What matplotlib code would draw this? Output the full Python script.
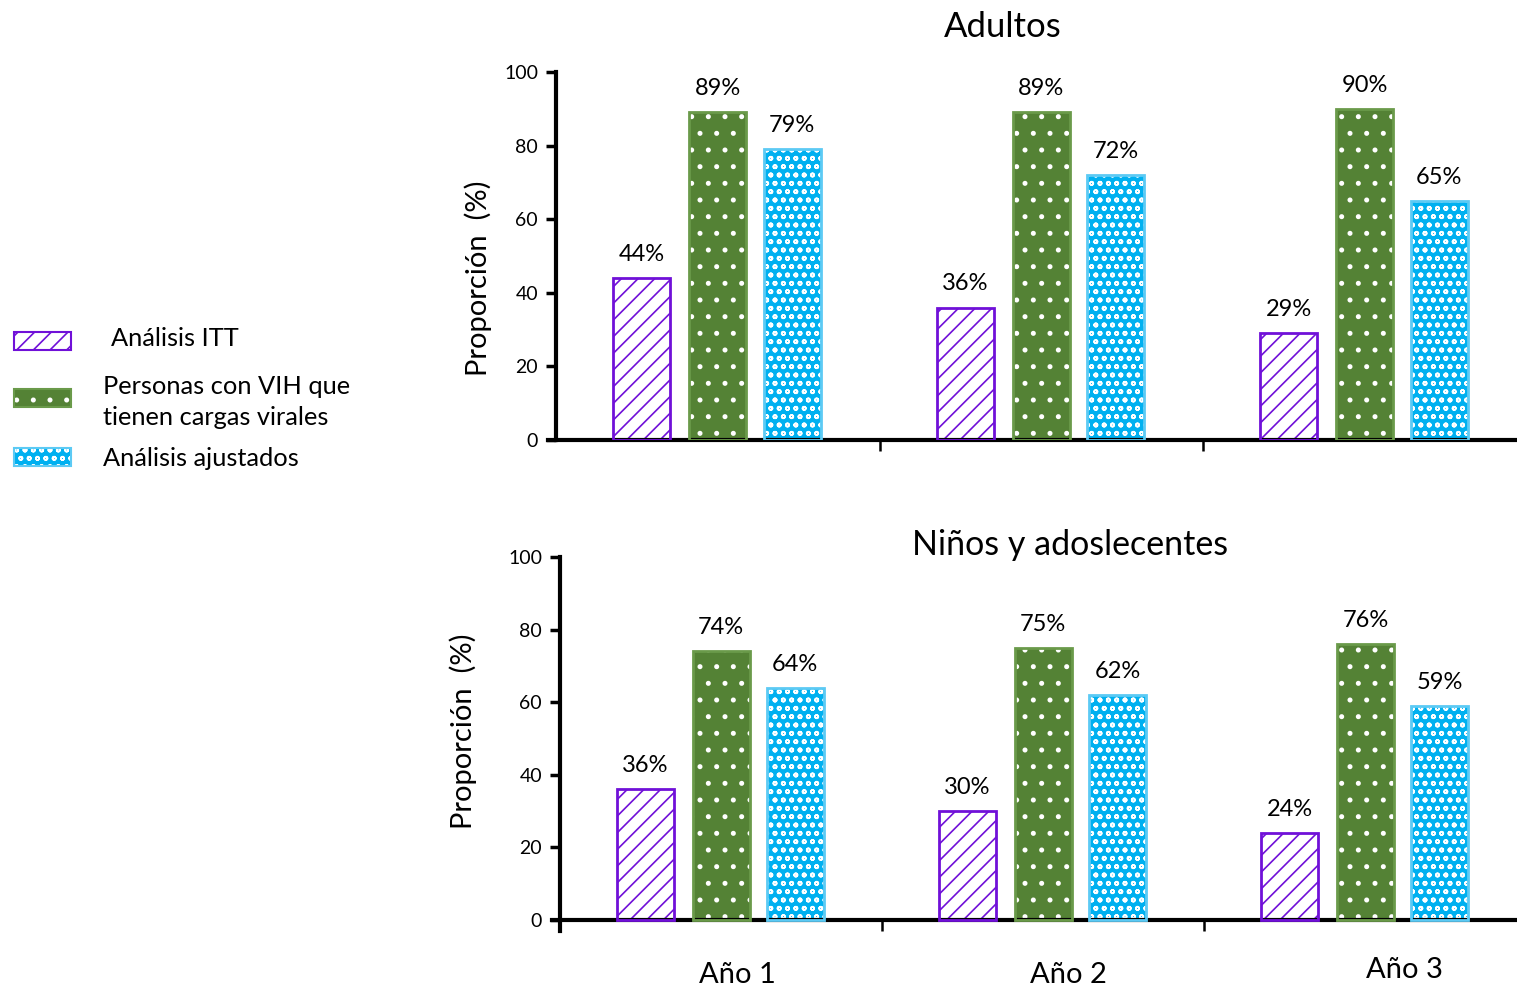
import matplotlib.pyplot as plt
from matplotlib.patches import Rectangle

plt.rcParams['font.family'] = ['Lato', 'DejaVu Sans']
plt.rcParams['hatch.linewidth'] = 1.2

# values (%) per year, one list per series
years = ["Año 1", "Año 2", "Año 3"]
series = ["Análisis ITT", "Personas con VIH que\ntienen cargas virales", "Análisis ajustados"]
adultos_itt = [44, 36, 29]
adultos_vih = [89, 89, 90]
adultos_ajust = [79, 72, 65]
ninos_itt = [36, 30, 24]
ninos_vih = [74, 75, 76]
ninos_ajust = [64, 62, 59]

PURPLE = '#7010d8'
GREEN = '#548235'
BLUE = '#00b0f0'

# (face, edge, hatch, hatch colour) for each series
styles = [
    ('white', PURPLE, '//', PURPLE),
    (GREEN, '#6a9a4a', '.', 'white'),
    (BLUE, '#5ccaf4', 'oo', 'white'),
]
offsets = [-0.235, 0.0, 0.23]
width = 0.176

W, H = 1517, 989
fig = plt.figure(figsize=(W / 100, H / 100), dpi=100)


def make_axes(left_px, zero_px, top_px, ylo):
    # zero_px: pixel row of y=0, top_px: pixel row of y=100
    scale = (zero_px - top_px) / 100
    bottom_px = zero_px - ylo * scale
    return fig.add_axes([left_px / W, 1 - bottom_px / H, 1 - left_px / W,
                         (bottom_px - top_px) / H])


def draw_panel(ax, values, ylo):
    for k, (vals, (fc, ec, hatch, hc)) in enumerate(zip(values, styles)):
        xs = [i + 0.5 + offsets[k] for i in range(len(vals))]
        # hatch layer first (uses edgecolor for the pattern), outline on top
        ax.bar(xs, vals, width, color=fc, edgecolor=hc, hatch=hatch,
               linewidth=0, zorder=2)
        ax.bar(xs, vals, width, fill=False, edgecolor=ec, linewidth=2,
               zorder=3)
        for x, v in zip(xs, vals):
            ax.annotate(f"{v}%", (x, v), xytext=(0, 17), textcoords='offset points',
                        ha='center', va='center', fontsize=17)
    ax.set_xlim(-0.025, 2.97)
    ax.set_ylim(ylo, 100)
    for s in ['top', 'right']:
        ax.spines[s].set_visible(False)
    ax.spines['left'].set_position(('data', 0))
    ax.spines['left'].set_bounds(ylo, 100)
    ax.spines['bottom'].set_position(('data', 0))
    ax.spines['left'].set_linewidth(3)
    ax.spines['bottom'].set_linewidth(3)
    ax.set_yticks(range(0, 101, 20))
    ax.tick_params(axis='y', length=7, width=2.5, labelsize=14, pad=6)
    ax.set_xticks([1, 2])
    ax.set_xticklabels([])
    ax.tick_params(axis='x', length=8, width=1.8, direction='out')
    ax.set_ylabel("Proporción  (%)", fontsize=21)


ax1 = make_axes(548, 440, 72, 0)
draw_panel(ax1, [adultos_itt, adultos_vih, adultos_ajust], 0)
ax1.yaxis.set_label_coords(-0.058, 0.44)
fig.text(1003 / W, 1 - 27 / H, "Adultos", ha='center', va='center', fontsize=25)

ax2 = make_axes(552, 920, 557, -3)
draw_panel(ax2, [ninos_itt, ninos_vih, ninos_ajust], -3)
ax2.yaxis.set_label_coords(-0.078, 0.535)
fig.text(1070 / W, 1 - 545 / H, "Niños y adoslecentes", ha='center', va='center',
         fontsize=24.5)

# year labels under the lower panel
for x_px, y_px, name in zip([737, 1068, 1404], [975, 975, 970], years):
    fig.text(x_px / W, 1 - y_px / H, name, ha='center', va='center', fontsize=21)

# legend drawn by hand on the left
leg_y = [341, 398, 457]
leg_tx = [111, 103, 103]
leg_ty = [338, 402, 459]
for (fc, ec, hatch, hc), y, tx, ty, name in zip(styles, leg_y, leg_tx, leg_ty, series):
    x0, w, h = 14 / W, 57 / W, 18 / H
    y0 = 1 - y / H - h / 2
    fig.add_artist(Rectangle((x0, y0), w, h, transform=fig.transFigure,
                             facecolor=fc, edgecolor=hc, hatch=hatch, linewidth=0))
    fig.add_artist(Rectangle((x0, y0), w, h, transform=fig.transFigure,
                             fill=False, edgecolor=ec, linewidth=1.5))
    fig.text(tx / W, 1 - ty / H, name, ha='left', va='center', fontsize=18.3,
             linespacing=1.45)

fig.savefig('out.png', dpi=100)
